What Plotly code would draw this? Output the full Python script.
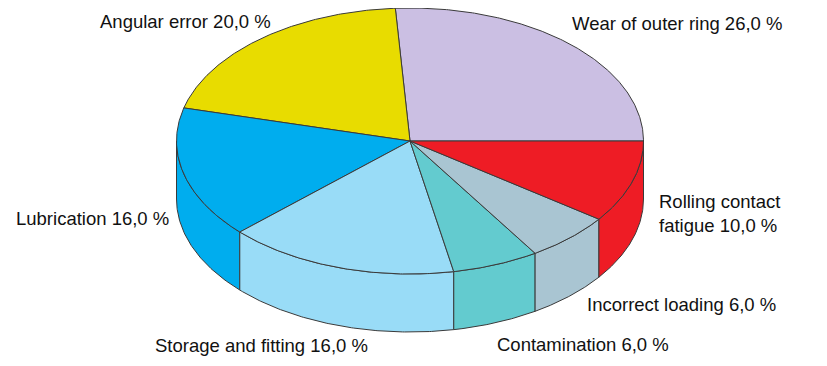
import numpy as np
import plotly.graph_objects as go

# Chart data
categories = ["Wear of outer ring", "Angular error", "Lubrication", "Storage and fitting",
              "Contamination", "Incorrect loading", "Rolling contact fatigue"]
values = [26.0, 20.0, 16.0, 16.0, 6.0, 6.0, 10.0]
colors = ["#CBBFE3", "#E8DC00", "#00ADEE", "#99DCF7", "#63CBCF", "#A9C5D2", "#EE1C25"]
label_texts = ["Wear of outer ring 26,0 %", "Angular error 20,0 %", "Lubrication 16,0 %",
               "Storage and fitting 16,0 %", "Contamination 6,0 %", "Incorrect loading 6,0 %",
               "Rolling contact<br>fatigue 10,0 %"]
label_x = [572, 100, 16, 155, 497, 587, 659]
label_y = [25.5, 23, 220, 347, 346, 306, 215]

# Geometry of the tilted pie
CX, CY, RX, RY, DEPTH = 410, 141, 233.5, 133, 58
OUTLINE = "#3A3A3A"
PAGE_MARGIN = 8  # the browser's default body margin

def rim(a0, a1):
    t = np.radians(np.linspace(a0, a1, max(int(abs(a1 - a0) * 2), 2)))
    return CX + RX * np.cos(t), CY - RY * np.sin(t)

fig = go.Figure()
edges = np.cumsum([0] + values) * 3.6

# Side walls (visible for the front half, 180..360 degrees)
for i, c in enumerate(colors):
    a0, a1 = max(edges[i], 180), edges[i + 1]
    if a1 <= a0:
        continue
    x, y = rim(a0, a1)
    fig.add_trace(go.Scatter(
        x=np.r_[x, x[::-1], x[0]], y=np.r_[y, y[::-1] + DEPTH, y[0]],
        mode="lines", fill="toself", fillcolor=c,
        line=dict(color=OUTLINE, width=1), hoverinfo="skip", showlegend=False))

# Top face
for i, c in enumerate(colors):
    x, y = rim(edges[i], edges[i + 1])
    fig.add_trace(go.Scatter(
        x=np.r_[CX, x, CX], y=np.r_[CY, y, CY],
        mode="lines", fill="toself", fillcolor=c,
        line=dict(color=OUTLINE, width=1), name=categories[i],
        hoverinfo="name", showlegend=False))

fig.add_trace(go.Scatter(
    x=label_x, y=label_y, text=label_texts, mode="text",
    textposition="middle right",
    textfont=dict(family="Liberation Sans", size=18.5, color="#111111"),
    hoverinfo="skip", showlegend=False))

fig.update_layout(
    width=827 - PAGE_MARGIN, height=366 - PAGE_MARGIN, margin=dict(l=0, r=0, t=0, b=0),
    paper_bgcolor="white", plot_bgcolor="white",
    xaxis=dict(range=[PAGE_MARGIN, 827], visible=False, fixedrange=True),
    yaxis=dict(range=[366, PAGE_MARGIN], visible=False, fixedrange=True))
fig.write_html("out.html", config={"displayModeBar": False})
